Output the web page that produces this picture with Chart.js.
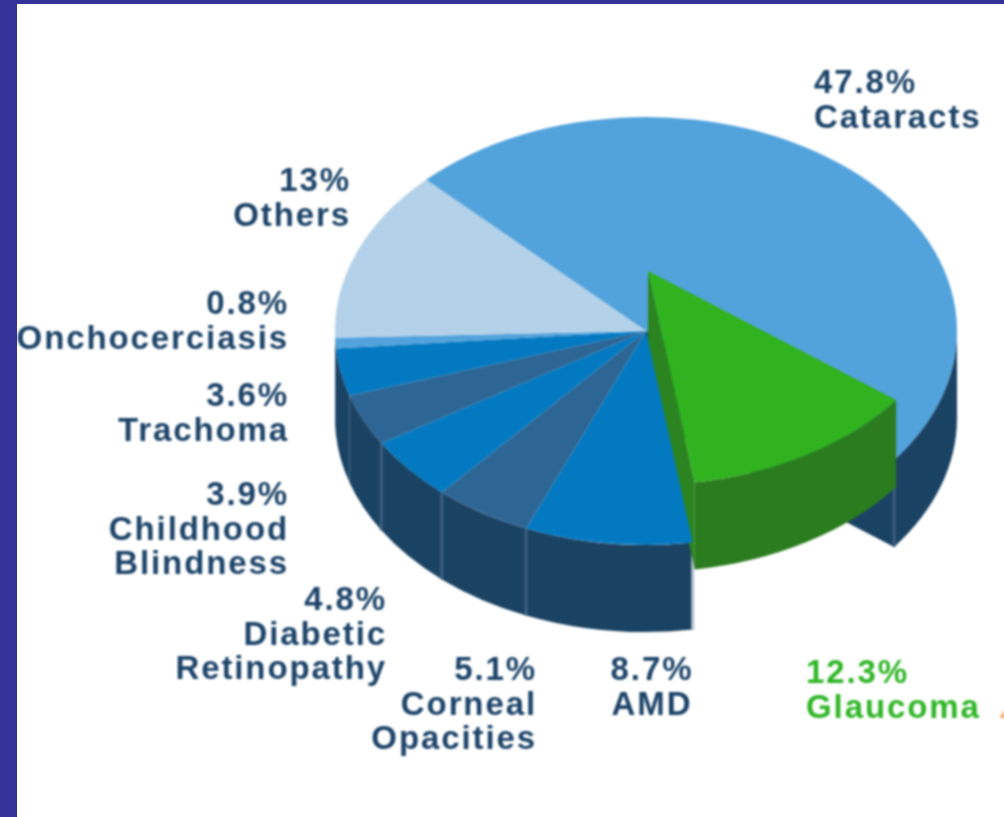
<!DOCTYPE html>
<html>
<head>
<meta charset="utf-8">
<style>
html, body { margin: 0; padding: 0; background: #fff; overflow: hidden; }
canvas { display: block; filter: blur(0.8px); }
.edge { position: absolute; left: 0; top: 0; background: #333399; }
#edgeTop { width: 1004px; height: 4px; }
#edgeLeft { width: 17px; height: 817px; }
</style>
<script src="https://cdn.jsdelivr.net/npm/chart.js@4"></script>
</head>
<body>
<canvas id="pieChart" width="1004" height="817"></canvas>
<div class="edge" id="edgeTop"></div>
<div class="edge" id="edgeLeft"></div>
<script>
var categories = ['Cataracts', 'Glaucoma', 'AMD', 'Corneal Opacities', 'Diabetic Retinopathy', 'Childhood Blindness', 'Trachoma', 'Onchocerciasis', 'Others'];
var shares = [47.8, 12.3, 8.7, 5.1, 4.8, 3.9, 3.6, 0.8, 13];
var valueLabels = ['47.8%', '12.3%', '8.7%', '5.1%', '4.8%', '3.9%', '3.6%', '0.8%', '13%'];
var colors = ['#52a2dc', '#31b31f', '#0379c1', '#2d6594', '#0379c1', '#2d6594', '#0379c1', '#52a2dc', '#b3d1e9'];

var GLAUCOMA = 1, CATARACTS = 0;
var SQUASH = 0.688, DEPTH = 87;
var LIFT_X = 2, LIFT_Y = -60;
var WALL = '#1a4263', SEAM = '#3d5f80', GREEN_WALL = '#2a7c1e', GREEN_SIDE = '#2b8420';
var TEXT = '#1c4368', TEXT_GREEN = '#2fb526';

// label text blocks: [category index, anchor x, first baseline, align, lines]
var labelBlocks = [
	[0, 814, 93, 'left', ['Cataracts']],
	[8, 351, 191, 'right', ['Others']],
	[7, 289, 314, 'right', ['Onchocerciasis']],
	[6, 289, 406, 'right', ['Trachoma']],
	[5, 289, 505, 'right', ['Childhood', 'Blindness']],
	[4, 387, 610, 'right', ['Diabetic', 'Retinopathy']],
	[3, 537, 680, 'right', ['Corneal', 'Opacities']],
	[2, 652, 680, 'center', ['AMD']],
	[1, 806, 683, 'left', ['Glaucoma']]
];

function squash(ctx, arc) {
	ctx.translate(arc.x, arc.y);
	ctx.scale(1, SQUASH);
	ctx.translate(-arc.x, -arc.y);
}

function draw_top(ctx, arc) {
	ctx.save();
	squash(ctx, arc);
	arc.draw(ctx);
	ctx.restore();
}

function rim_point(arc, angle, drop) {
	return {
		x: arc.x + Math.cos(angle) * arc.outerRadius,
		y: arc.y + Math.sin(angle) * arc.outerRadius * SQUASH + drop
	};
}

function draw_wall(ctx, arc, color) {
	var a0 = Math.max(arc.startAngle, 0), a1 = Math.min(arc.endAngle, Math.PI);
	if (a1 <= a0) { return; }
	var ry = arc.outerRadius * SQUASH;
	ctx.beginPath();
	ctx.ellipse(arc.x, arc.y, arc.outerRadius, ry, 0, a0, a1);
	ctx.ellipse(arc.x, arc.y + DEPTH, arc.outerRadius, ry, 0, a1, a0, true);
	ctx.closePath();
	ctx.fillStyle = color;
	ctx.fill();
}

function draw_face(ctx, arc, angle, color) {
	var p = rim_point(arc, angle, 0);
	ctx.beginPath();
	ctx.moveTo(arc.x, arc.y);
	ctx.lineTo(p.x, p.y);
	ctx.lineTo(p.x, p.y + DEPTH);
	ctx.lineTo(arc.x, arc.y + DEPTH);
	ctx.closePath();
	ctx.fillStyle = color;
	ctx.fill();
}

function draw_seam(ctx, arc, angle, color) {
	var p = rim_point(arc, angle, 0);
	ctx.beginPath();
	ctx.moveTo(p.x, p.y);
	ctx.lineTo(p.x, p.y + DEPTH);
	ctx.lineWidth = 3;
	ctx.strokeStyle = color;
	ctx.stroke();
}

var pie3d = {
	id: 'pie3d',
	beforeDatasetDraw: function (chart, args) {
		var ctx = chart.ctx, arcs = args.meta.data, i;
		var lifted = arcs[GLAUCOMA];
		ctx.save();
		// walls of the pie, glaucoma left out
		for (i = 0; i < arcs.length; i++) {
			if (i != GLAUCOMA) { draw_wall(ctx, arcs[i], WALL); }
		}
		// no seams round the left edge, they would stick out past the wall
		for (i = 2; i < arcs.length; i++) {
			if (arcs[i].endAngle < Math.PI * 0.88) { draw_seam(ctx, arcs[i], arcs[i].endAngle, SEAM); }
		}
		draw_seam(ctx, arcs[2], arcs[2].startAngle, '#b4c3d0');
		// cut left behind by the lifted slice
		draw_face(ctx, arcs[CATARACTS], arcs[CATARACTS].endAngle, WALL);
		draw_seam(ctx, arcs[CATARACTS], arcs[CATARACTS].endAngle, SEAM);
		draw_top(ctx, arcs[CATARACTS]);
		// lifted slice
		ctx.save();
		ctx.translate(LIFT_X, LIFT_Y);
		draw_face(ctx, lifted, lifted.endAngle, GREEN_SIDE);
		draw_wall(ctx, lifted, GREEN_WALL);
		draw_top(ctx, lifted);
		ctx.restore();
		// the rest sits over the green side face
		for (i = 2; i < arcs.length; i++) {
			draw_top(ctx, arcs[i]);
		}
		ctx.restore();
		return false;
	},
	afterDraw: function (chart) {
		var ctx = chart.ctx;
		ctx.save();
		ctx.font = 'bold 33px "Liberation Sans", Arial, sans-serif';
		ctx.letterSpacing = '1.9px';
		ctx.textBaseline = 'alphabetic';
		labelBlocks.forEach(function (block) {
			var lines = [valueLabels[block[0]]].concat(block[4]);
			ctx.textAlign = block[3];
			ctx.fillStyle = block[0] == GLAUCOMA ? TEXT_GREEN : TEXT;
			lines.forEach(function (line, n) {
				ctx.fillText(line, block[1], block[2] + n * 34.7);
			});
		});
		// stray orange mark at the right edge of the source image
		ctx.fillStyle = '#f79646';
		ctx.beginPath();
		ctx.moveTo(1000, 718);
		ctx.lineTo(1004, 710);
		ctx.lineTo(1004, 718);
		ctx.closePath();
		ctx.fill();
		ctx.restore();
	}
};

var chrtcfg = {
	type: 'pie',
	data: {
		labels: categories,
		datasets: [{ data: shares, backgroundColor: colors, borderWidth: 0, hoverOffset: 0 }]
	},
	options: {
		responsive: false,
		animation: false,
		events: [],
		rotation: -45,
		layout: { padding: { left: 335, right: 47, top: 20, bottom: 175 } },
		plugins: { legend: { display: false }, tooltip: { enabled: false } }
	},
	plugins: [pie3d]
};
var pieChart = new Chart(document.getElementById('pieChart').getContext('2d'), chrtcfg);
</script>
</body>
</html>
